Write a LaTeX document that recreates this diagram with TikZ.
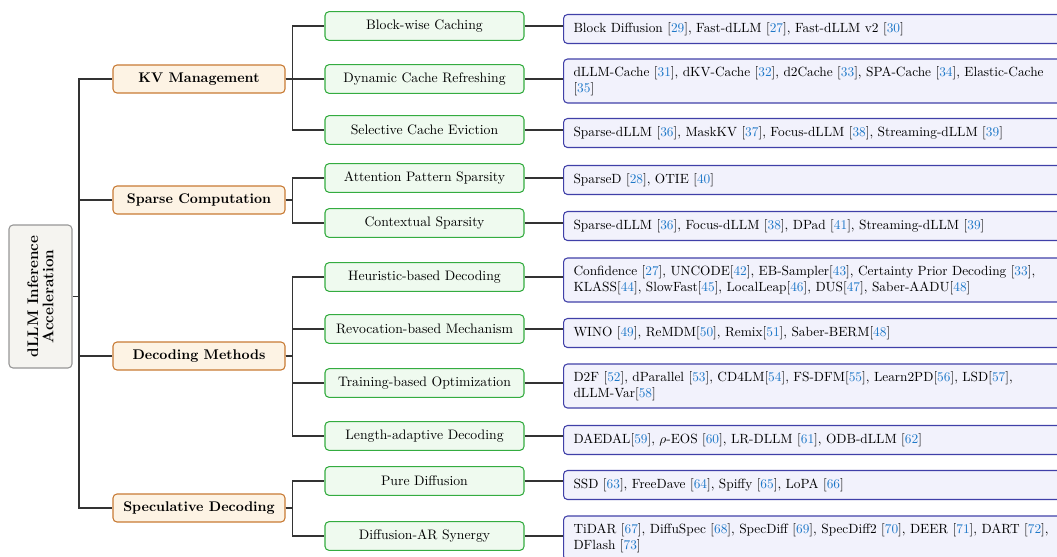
\documentclass[tikz,border=0pt]{standalone}
\usepackage{xcolor}
\definecolor{orfill}{RGB}{253,243,228}
\definecolor{ordraw}{RGB}{200,122,52}
\definecolor{grfill}{RGB}{239,250,239}
\definecolor{grdraw}{RGB}{52,172,64}
\definecolor{blfill}{RGB}{242,242,252}
\definecolor{bldraw}{RGB}{64,64,168}
\definecolor{rtfill}{RGB}{245,244,240}
\definecolor{rtdraw}{RGB}{150,150,150}
\definecolor{citeblue}{RGB}{30,120,200}
\newcommand{\cc}[1]{[\textcolor{citeblue}{#1}]}
\newcommand{\refbody}{\fontsize{10}{12}\selectfont\hyphenpenalty 10000 \exhyphenpenalty 10000 \relax}
\begin{document}
\begin{tikzpicture}[x=0.75pt,y=-0.75pt,
  every node/.style={font=\fontsize{10}{12}\selectfont},
  rootbox/.style={draw=rtdraw,fill=rtfill,line width=0.8pt,rounded corners=3pt,rotate=90,
    minimum width=107.25pt,minimum height=47.25pt,align=center,
    font=\fontsize{11.5}{11.5}\selectfont\bfseries},
  catbox/.style={draw=ordraw,fill=orfill,line width=0.8pt,rounded corners=3pt,
    minimum width=129pt,minimum height=21pt,font=\fontsize{10.5}{12}\selectfont\bfseries},
  subbox/.style={draw=grdraw,fill=grfill,line width=0.8pt,rounded corners=3pt,
    minimum width=149.25pt,minimum height=21.5pt,font=\fontsize{10.3}{12}\selectfont},
  refbox/.style={draw=bldraw,fill=blfill,line width=0.8pt,rounded corners=3pt,anchor=west,
    text width=370pt,align=left,inner xsep=7.5pt,inner ysep=5.5pt,minimum height=21.75pt,
    font=\refbody},
  link/.style={draw=black!80,line width=0.9pt}]
\useasboundingbox (0,0) rectangle (1057,557);
\clip (0,0) rectangle (1057,557);

\node[rootbox] (root) at (40.5,296.5) {dLLM Inference\\Acceleration};

\node[catbox] (kv) at (199,79) {KV Management};
\node[catbox] (sp) at (199,200) {Sparse Computation};
\node[catbox] (dm) at (199,356) {Decoding Methods};
\node[catbox] (sd) at (199,508) {Speculative Decoding};

\node[subbox] (g1) at (424.5,26) {Block-wise Caching};
\node[subbox] (g2) at (424.5,79) {Dynamic Cache Refreshing};
\node[subbox] (g3) at (424.5,130) {Selective Cache Eviction};
\node[subbox] (g4) at (424.5,178) {Attention Pattern Sparsity};
\node[subbox] (g5) at (424.5,223) {Contextual Sparsity};
\node[subbox] (g6) at (424.5,277) {Heuristic-based Decoding};
\node[subbox] (g7) at (424.5,329) {Revocation-based Mechanism};
\node[subbox] (g8) at (424.5,383) {Training-based Optimization};
\node[subbox] (g9) at (424.5,436) {Length-adaptive Decoding};
\node[subbox] (g10) at (424.5,481) {Pure Diffusion};
\node[subbox] (g11) at (424.5,536) {Diffusion-AR Synergy};

\node[refbox] (b1) at (563,29) {Block Diffusion \cc{29}, Fast-dLLM \cc{27}, Fast-dLLM v2 \cc{30}};
\node[refbox] (b2) at (563,81) {dLLM-Cache \cc{31}, dKV-Cache \cc{32}, d2Cache \cc{33}, SPA-Cache \cc{34}, Elastic-Cache \cc{35}};
\node[refbox] (b3) at (563,133) {Sparse-dLLM \cc{36}, MaskKV \cc{37}, Focus-dLLM \cc{38}, Streaming-dLLM \cc{39}};
\node[refbox] (b4) at (563,180) {SparseD \cc{28}, OTIE \cc{40}};
\node[refbox] (b5) at (563,226) {Sparse-dLLM \cc{36}, Focus-dLLM \cc{38}, DPad \cc{41}, Streaming-dLLM \cc{39}};
\node[refbox] (b6) at (563,280) {Confidence \cc{27}, UNCODE\cc{42}, EB-Sampler\cc{43}, Certainty Prior Decoding \cc{33}, KLASS\cc{44}, SlowFast\cc{45}, LocalLeap\cc{46}, DUS\cc{47}, Saber-AADU\cc{48}};
\node[refbox] (b7) at (563,333) {WINO \cc{49}, ReMDM\cc{50}, Remix\cc{51}, Saber-BERM\cc{48}};
\node[refbox] (b8) at (563,386) {D2F \cc{52}, dParallel \cc{53}, CD4LM\cc{54}, FS-DFM\cc{55}, Learn2PD\cc{56}, LSD\cc{57}, dLLM-Var\cc{58}};
\node[refbox] (b9) at (563,440) {DAEDAL\cc{59}, $\rho$-EOS \cc{60}, LR-DLLM \cc{61}, ODB-dLLM \cc{62}};
\node[refbox] (b10) at (563,485) {SSD \cc{63}, FreeDave \cc{64}, Spiffy \cc{65}, LoPA \cc{66}};
\node[refbox] (b11) at (563,538) {TiDAR \cc{67}, DiffuSpec \cc{68}, SpecDiff \cc{69}, SpecDiff2 \cc{70}, DEER \cc{71}, DART \cc{72}, DFlash \cc{73}};

% root to categories
\coordinate (tr) at (79,296.5);
\draw[link] (root.south) -- (tr);
\foreach \c in {kv,sp,dm,sd} \draw[link] (tr) |- (\c.west);

% categories to subcategories
\foreach \c/\g in {kv/g1,kv/g2,kv/g3,sp/g4,sp/g5,dm/g6,dm/g7,dm/g8,dm/g9,sd/g10,sd/g11}
  \draw[link] (\c.east) -- ++(7,0) |- (\g.west);

% subcategories to references
\foreach \i in {1,...,11}
  \draw[link] (g\i.east) -- (g\i.east -| b\i.west);
\end{tikzpicture}
\end{document}
